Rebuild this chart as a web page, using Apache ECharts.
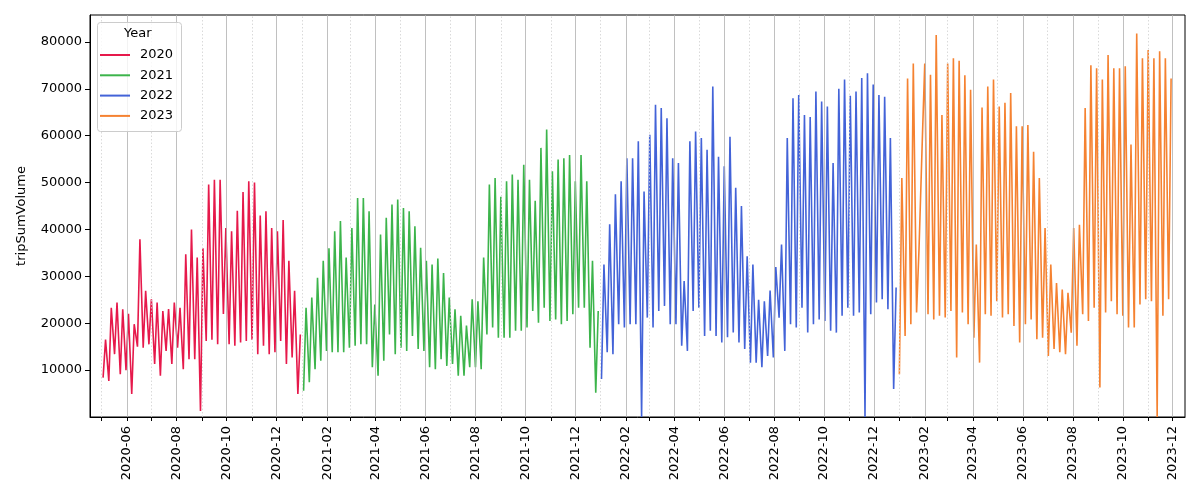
<!DOCTYPE html>
<html>
<head>
<meta charset="utf-8">
<script src="https://cdn.jsdelivr.net/npm/echarts@6/dist/echarts.min.js"></script>
<style>html,body{margin:0;padding:0;background:#fff}#c{width:1200px;height:500px}</style>
</head>
<body>
<div id="c"></div>
<script>
// Weekly readings: each week (starting Monday) has a weekend low (Sunday before) and a midweek high (Wednesday)
const years = ['2020', '2021', '2022', '2023'];
const weekStart = { '2020': [2020, 4, 4], '2021': [2021, 0, 4], '2022': [2022, 0, 3], '2023': [2023, 0, 2] };

const highs2020 = [16500, 23300, 24400, 23000, 22000, 19800, 37900, 26900, 25100, 24400, 22600, 23000, 24400, 23300, 34700, 40000, 34000, 36000, 49600, 50600, 50600, 40300, 39600, 44000, 48000, 50300, 50000, 43000, 43900, 40300, 39600, 42000, 33300, 26900, 17600];
const lows2020 = [8400, 7700, 13400, 9100, 10000, 4900, 15000, 14800, 15500, 11300, 8800, 14100, 11300, 14800, 10200, 12300, 12300, 1300, 16200, 16500, 15500, 22000, 15500, 15200, 15900, 16200, 16500, 13400, 15200, 13400, 13800, 16200, 11300, 12700, 4900];

const highs2021 = [23300, 25500, 29700, 33300, 36000, 39600, 41800, 34000, 40300, 46700, 46700, 43900, 24000, 38900, 42500, 45300, 46400, 44600, 43900, 40700, 36100, 33300, 32500, 33800, 30700, 25500, 23000, 21600, 19500, 25100, 24700, 34000, 49600, 51000, 47000, 50300, 51700, 50600, 53800, 50600, 46100, 57400, 61300, 52400, 54900, 55200, 55900, 50300, 55900, 50300, 33300, 22600];
const lows2021 = [5600, 7400, 10200, 12000, 14100, 13800, 13800, 13800, 14800, 15200, 15500, 15500, 10600, 8800, 12000, 17600, 13400, 14800, 14100, 17300, 14500, 14100, 10600, 10200, 12300, 10900, 11300, 8800, 8800, 10600, 10600, 10200, 17600, 19100, 16900, 16900, 16900, 18400, 18400, 19100, 22600, 20100, 23300, 20500, 20800, 19800, 20500, 21900, 23300, 23300, 14800, 5200];

const highs2022 = [32500, 41100, 47500, 50300, 55200, 55200, 58800, 48100, 60200, 66600, 65900, 63700, 55200, 54200, 29000, 58800, 60900, 59500, 57000, 70500, 55500, 53500, 59800, 48900, 45000, 34300, 32500, 25000, 24700, 27000, 32000, 36800, 59500, 68000, 68700, 64400, 64000, 69400, 67300, 66200, 54200, 70000, 72000, 68500, 69400, 72300, 73300, 70900, 68700, 68300, 59500, 27600];
const lows2022 = [8100, 13800, 13400, 19800, 19100, 19800, 19800, 0, 21200, 19100, 22600, 23700, 19800, 19800, 15200, 14100, 22600, 23300, 17300, 18400, 17300, 15900, 17000, 18000, 15900, 14500, 11600, 11600, 10600, 13000, 12700, 21200, 14100, 19800, 19100, 23300, 18000, 19800, 20800, 20500, 18400, 18000, 21600, 23300, 21600, 22300, 0, 21900, 24400, 25100, 23000, 6000];

const highs2023 = [51000, 72200, 75400, 35900, 75400, 73000, 81500, 64400, 75400, 76500, 76000, 72900, 69800, 36800, 66000, 70500, 72000, 66200, 67000, 69100, 62000, 62000, 62300, 56600, 51000, 40300, 32500, 28600, 27200, 26500, 40300, 41000, 65900, 75000, 74400, 72000, 77200, 74400, 74400, 74800, 58100, 81800, 76500, 78300, 76500, 78000, 76500, 72200];
const lows2023 = [9100, 17300, 19800, 22300, 59000, 21900, 20800, 21600, 21200, 22600, 12700, 22300, 19800, 16900, 11600, 21900, 21600, 24700, 21200, 21900, 19400, 15900, 19800, 20800, 16600, 16900, 13000, 14500, 13800, 13400, 18000, 15200, 21900, 20500, 23300, 6300, 22300, 24700, 21900, 21600, 19100, 19100, 24000, 25100, 24700, 0, 21600, 25100];

const highs = { '2020': highs2020, '2021': highs2021, '2022': highs2022, '2023': highs2023 };
const lows = { '2020': lows2020, '2021': lows2021, '2022': lows2022, '2023': lows2023 };
const colors = { '2020': '#e6194b', '2021': '#3cb44b', '2022': '#4363d8', '2023': '#f58231' };

const yTicks = [10000, 20000, 30000, 40000, 50000, 60000, 70000, 80000];

const DAY = 86400000;
function buildData(y) {
  const s = weekStart[y];
  const t0 = Date.UTC(s[0], s[1], s[2]);
  const out = [];
  for (let j = 0; j < highs[y].length; j++) {
    out.push([t0 + (7 * j - 1) * DAY, lows[y][j]]);
    out.push([t0 + (7 * j + 2) * DAY, highs[y][j]]);
  }
  return out;
}

// month gridlines (major on even months, minor on odd months)
const gridMonths = [];
for (let yy = 2020; yy <= 2023; yy++) {
  for (let m = 0; m < 12; m++) {
    const t = Date.UTC(yy, m, 1);
    if (t < Date.UTC(2020, 4, 1) || t > Date.UTC(2023, 11, 1)) continue;
    const major = (m + 1) % 2 === 0;
    gridMonths.push({
      xAxis: t,
      lineStyle: major ? { color: '#b0b0b0', width: 0.8, type: 'solid' } : { color: '#d0d0d0', width: 0.8, type: [1.5, 2] }
    });
  }
}

const series = [{
  name: 'grid', type: 'line', data: [], silent: true, z: 1,
  markLine: { silent: true, symbol: ['none', 'none'], label: { show: false }, animation: false, data: gridMonths }
}];
years.forEach(y => {
  series.push({
    name: y, type: 'line', data: buildData(y), showSymbol: false, symbol: 'none',
    lineStyle: { width: 1.6, color: colors[y] }, itemStyle: { color: colors[y] },
    z: 3, animation: false
  });
});

const chart = echarts.init(document.getElementById('c'), null, { renderer: 'canvas' });
const FONT = 'DejaVu Sans';
chart.setOption({
  useUTC: true,
  animation: false,
  backgroundColor: '#fff',
  textStyle: { fontFamily: FONT },
  grid: { left: 90, right: 15, top: 15, bottom: 83, show: true, borderColor: '#000', borderWidth: 1, backgroundColor: 'transparent' },
  xAxis: {
    type: 'time',
    min: Date.UTC(2020, 3, 17),
    max: Date.UTC(2023, 11, 16),
    splitNumber: 44,
    minInterval: 28 * DAY,
    maxInterval: 31 * DAY,
    axisLine: { show: true, lineStyle: { color: '#000', width: 1 } },
    axisTick: { show: true, length: 4, lineStyle: { color: '#000' } },
    splitLine: { show: false },
    axisLabel: {
      rotate: 90, interval: 0, margin: 9, color: '#000', fontSize: 13, fontFamily: FONT,
      hideOverlap: false,
      formatter: function (v) {
        const d = new Date(v);
        const m = d.getUTCMonth() + 1;
        if (d.getUTCDate() !== 1 || m % 2 === 1) return '';
        return d.getUTCFullYear() + '-' + (m < 10 ? '0' + m : m);
      }
    }
  },
  yAxis: {
    type: 'value', min: 0, max: 85745, interval: 10000,
    name: 'tripSumVolume', nameLocation: 'middle', nameGap: 62, nameRotate: 90,
    nameTextStyle: { color: '#000', fontSize: 13, fontFamily: FONT },
    axisLine: { show: true, lineStyle: { color: '#000', width: 1 } },
    axisTick: { show: true, length: 5, lineStyle: { color: '#000' } },
    splitLine: { show: false },
    axisLabel: {
      color: '#000', fontSize: 13, fontFamily: FONT, margin: 8,
      showMinLabel: false, showMaxLabel: false,
      formatter: function (v) { return yTicks.indexOf(v) >= 0 ? String(v) : ''; }
    }
  },
  legend: {
    data: years, orient: 'vertical', left: 100, top: 48, padding: 0, itemWidth: 30, itemHeight: 2, itemGap: 6.3,
    icon: 'rect', z: 20,
    textStyle: { color: '#000', fontSize: 13, fontFamily: FONT, padding: [0, 0, 0, 5], lineHeight: 14 }
  },
  graphic: [
    { type: 'rect', left: 97, top: 22, z: 10, shape: { width: 84, height: 109, r: 3 }, style: { fill: 'rgba(255,255,255,0.8)', stroke: '#cccccc', lineWidth: 1 } },
    { type: 'text', left: 124, top: 27, z: 11, style: { text: 'Year', fill: '#000', font: '13px "DejaVu Sans"' } }
  ],
  series: series
});
</script>
</body>
</html>
